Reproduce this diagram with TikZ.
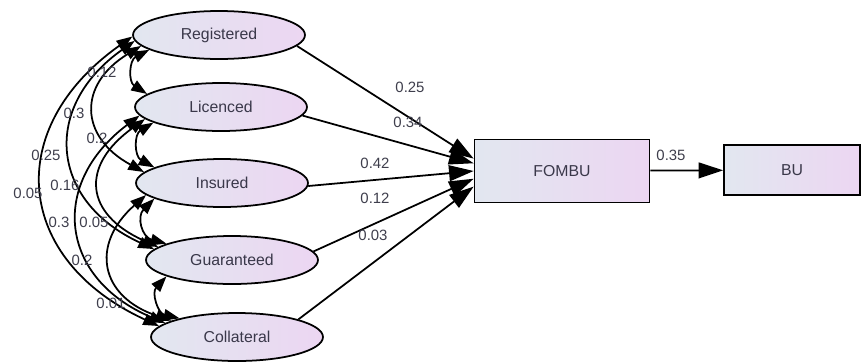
\documentclass[tikz,border=0pt]{standalone}
\usepackage{fontspec}
\setmainfont{Liberation Sans}
\usetikzlibrary{positioning, arrows.meta, shapes.geometric}

\definecolor{boxleft}{RGB}{226,231,240}
\definecolor{boxright}{RGB}{236,214,242}
\definecolor{coefgray}{RGB}{62,62,76}
\definecolor{namegray}{RGB}{58,56,74}

\begin{document}
\begin{tikzpicture}[
    x=0.02cm, y=0.02cm,
    font=\fontsize{9}{11}\selectfont,
    latent/.style={ellipse, draw, line width=1pt, minimum width=3.44cm, minimum height=0.96cm,
        left color=boxleft, right color=boxright, text=namegray, inner sep=0pt},
    observed/.style={rectangle, draw, line width=1pt, minimum height=1.26cm,
        left color=boxleft, right color=boxright, text=namegray, inner sep=0pt},
    path_arrow/.style={line width=1pt, -{Triangle[length=14pt, width=9pt]}},
    cov_arrow/.style={line width=1pt, {Triangle[length=9pt, width=6.5pt]}-{Triangle[length=9pt, width=6.5pt]}, bend right=60},
    coef/.style={text=coefgray, font=\fontsize{8.5}{10}\selectfont, inner sep=1pt}
]
\useasboundingbox (0,0) rectangle (861,-362);

% ==========================================
% Indicators (ellipses) and outcomes (boxes)
\node[latent] (reg) at (219,-35) {Registered};
\node[latent] (lic) at (221,-107) {Licenced};
\node[latent] (ins) at (222,-183) {Insured};
\node[latent] (gua) at (232,-260) {Guaranteed};
\node[latent] (col) at (237,-337) {Collateral};

\node[observed, minimum width=3.5cm] (fombu) at (562,-171) {FOMBU};
\node[observed, minimum width=2.72cm, minimum height=1cm] (bu) at (792,-170) {BU};

% ==========================================
% Regression paths
\draw[path_arrow] (reg.-8) -- (fombu.172);
\draw[path_arrow] (lic.-6) -- (fombu.175);
\draw[path_arrow] (ins.-2) -- (fombu.180);
\draw[path_arrow] (gua.6) -- (fombu.185);
\draw[path_arrow] (col.16) -- (fombu.190);
\draw[path_arrow] (fombu) -- (bu);

\node[coef] (p_reg) at (410,-87) {0.25};
\node[coef] (p_lic) at (408,-122) {0.34};
\node[coef] (p_ins) at (375,-163) {0.42};
\node[coef] (p_gua) at (375,-198) {0.12};
\node[coef] (p_col) at (373,-235) {0.03};
\node[coef] (p_bu) at (671,-155) {0.35};

% ==========================================
% Covariances between indicators
\draw[cov_arrow, looseness=1.3] (reg.192) to (lic.170);
\draw[cov_arrow, looseness=1.5] (reg.188) to (ins.172);
\draw[cov_arrow, looseness=1.4] (reg.184) to (gua.172);
\draw[cov_arrow, looseness=1.4] (reg.181) to (col.172);
\draw[cov_arrow, looseness=1.3] (lic.193) to (ins.167);
\draw[cov_arrow, looseness=1.6] (lic.189) to (gua.170);
\draw[cov_arrow, looseness=1.4] (lic.186) to (col.169);
\draw[cov_arrow, looseness=1.4] (ins.193) to (gua.166);
\draw[cov_arrow, looseness=1.5] (ins.189) to (col.166);
\draw[cov_arrow, looseness=1.3] (gua.194) to (col.162);

\node[coef] (c_rl) at (102,-72) {0.12};
\node[coef] (c_ri) at (74,-113) {0.3};
\node[coef] (c_li) at (97,-138) {0.2};
\node[coef] (c_rg) at (46,-155) {0.25};
\node[coef] (c_rc) at (28,-193) {0.05};
\node[coef] (c_lg) at (65,-185) {0.16};
\node[coef] (c_lc) at (59,-222) {0.3};
\node[coef] (c_ig) at (94,-222) {0.05};
\node[coef] (c_ic) at (82,-260) {0.2};
\node[coef] (c_gc) at (111,-303) {0.01};

\end{tikzpicture}
\end{document}
